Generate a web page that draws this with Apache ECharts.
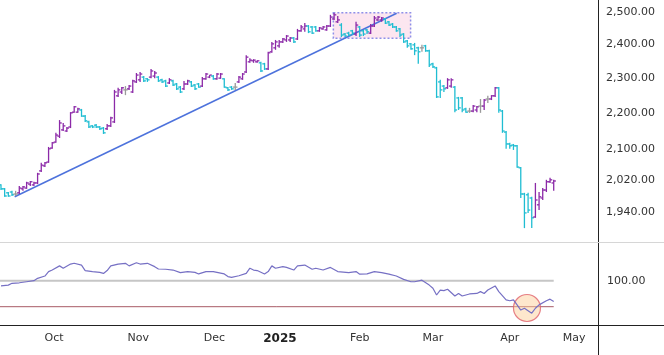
<!DOCTYPE html>
<html><head><meta charset="utf-8">
<script src="https://cdn.jsdelivr.net/npm/echarts@6/dist/echarts.min.js"></script>
<style>html,body{margin:0;padding:0;background:#fff}#c{width:664px;height:355px}</style>
</head><body><div id="c"></div>
<script>
// ---- price bars (one entry per trading day) ----
const opens  = [2008,1998,1988,1990,1985,1988,1998,2000,2010,2008,2013,2044,2057,2067,2104,2120,2136,2153,2150,2161,2202,2202,2208,2191,2175,2164,2166,2161,2158,2156,2164,2175,2248,2259,2265,2268,2259,2288,2294,2302,2297,2302,2305,2302,2294,2291,2285,2291,2282,2273,2268,2282,2288,2279,2282,2276,2297,2302,2305,2297,2299,2297,2271,2273,2273,2288,2297,2317,2347,2350,2347,2344,2341,2326,2377,2389,2395,2407,2413,2413,2419,2416,2441,2447,2456,2453,2453,2441,2447,2444,2456,2478,2469,2459,2431,2434,2441,2431,2453,2441,2444,2434,2456,2475,2475,2478,2469,2462,2453,2447,2431,2410,2401,2398,2389,2389,2395,2380,2341,2329,2288,2276,2271,2276,2273,2242,2242,2211,2205,2205,2208,2219,2219,2239,2239,2248,2271,2205,2147,2115,2112,2110,2052,1985,1983,1975,1928,1958,1975,1995,2016,2013];
const highs  = [2010,2000,1990,1993,1993,2005,2005,2016,2018,2016,2039,2065,2067,2107,2120,2145,2180,2172,2161,2202,2219,2214,2211,2194,2178,2166,2169,2164,2161,2169,2189,2265,2271,2273,2276,2279,2294,2314,2317,2305,2299,2326,2320,2305,2297,2294,2299,2294,2285,2276,2291,2294,2291,2282,2285,2302,2314,2308,2308,2314,2314,2299,2273,2276,2285,2305,2314,2367,2358,2355,2352,2347,2344,2377,2407,2413,2413,2419,2428,2422,2422,2447,2459,2465,2459,2456,2456,2453,2456,2459,2491,2497,2487,2465,2434,2438,2444,2469,2456,2444,2447,2462,2487,2487,2484,2481,2472,2465,2456,2450,2434,2413,2404,2404,2392,2398,2398,2383,2344,2332,2294,2279,2299,2299,2276,2245,2245,2214,2214,2222,2219,2239,2239,2248,2250,2273,2273,2208,2150,2118,2115,2112,2054,1988,1988,1978,2013,1990,2000,2021,2026,2021];
const lows   = [1995,1978,1978,1980,1980,1985,1993,1998,2005,2005,2010,2041,2054,2065,2102,2118,2131,2150,2147,2158,2200,2200,2189,2175,2158,2158,2158,2153,2142,2153,2161,2172,2245,2253,2250,2265,2256,2285,2288,2288,2288,2299,2299,2288,2285,2273,2282,2276,2265,2256,2265,2279,2273,2265,2271,2273,2294,2299,2294,2294,2297,2271,2262,2265,2265,2285,2294,2314,2344,2344,2344,2317,2323,2323,2374,2383,2389,2404,2407,2407,2404,2413,2438,2438,2434,2431,2438,2438,2444,2441,2453,2475,2465,2422,2422,2425,2428,2425,2422,2425,2431,2431,2453,2472,2469,2462,2456,2450,2438,2422,2404,2389,2383,2367,2341,2377,2377,2332,2329,2242,2242,2259,2268,2271,2202,2208,2202,2200,2200,2202,2202,2200,2208,2228,2236,2245,2200,2145,2102,2102,2099,2052,1975,1901,1938,1901,1926,1945,1970,1990,2013,1993];
const closes = [1998,1980,1980,1983,1985,2000,2003,2013,2016,2013,2036,2059,2065,2102,2118,2139,2172,2164,2158,2200,2217,2211,2191,2178,2161,2161,2161,2156,2145,2164,2186,2259,2265,2271,2265,2276,2291,2308,2311,2291,2294,2320,2314,2291,2288,2276,2294,2279,2268,2259,2282,2291,2276,2268,2273,2297,2311,2308,2297,2311,2311,2273,2265,2268,2273,2302,2311,2361,2352,2352,2350,2320,2326,2374,2401,2407,2407,2416,2425,2419,2407,2441,2453,2456,2438,2434,2441,2450,2453,2456,2484,2491,2475,2428,2425,2428,2434,2459,2428,2431,2438,2456,2481,2484,2481,2465,2459,2453,2441,2428,2407,2395,2386,2380,2377,2389,2380,2338,2332,2245,2265,2268,2294,2294,2208,2214,2208,2202,2205,2219,2217,2219,2236,2239,2248,2271,2208,2150,2115,2110,2110,2054,1985,1938,1945,1926,1970,1978,1995,2016,2021,2018];

// ---- lower pane indicator (bar index, value) ----
const indIdx = [0,2,3,5,7,9,10,12,13,14,16,17,19,20,22,23,25,27,28,29,30,32,34,35,37,38,40,42,43,45,47,49,51,53,54,56,58,59,61,62,63,65,67,68,69,70,72,73,74,75,77,78,80,81,83,85,86,88,90,92,95,97,98,100,102,104,106,108,110,112,113,115,117,118,119,120,121,122,124,125,126,128,130,131,132,133,135,136,138,139,140,141,142,143,145,146,147,149,150,151];
const indVal = [98.0,98.3,99.0,99.2,99.6,100.0,100.9,101.8,103.5,104.1,105.7,104.8,106.4,106.7,106.0,103.9,103.5,103.2,102.8,103.9,105.7,106.4,106.7,105.7,106.9,106.4,106.7,105.4,104.5,104.4,104.1,103.1,103.5,103.2,102.6,103.5,103.5,103.2,102.6,101.6,101.3,101.9,102.8,104.8,104.1,103.9,102.6,103.5,105.7,104.8,105.4,105.1,104.1,105.7,106.0,104.4,104.8,104.1,105.1,103.5,103.1,103.5,102.5,102.6,103.5,103.1,102.5,101.8,100.5,99.6,99.6,100.2,98.3,97.1,94.5,96.4,96.2,96.7,94.1,95.1,94.1,94.9,95.1,95.8,95.1,96.4,98.0,95.8,92.6,92.3,92.6,90.7,88.7,89.4,87.5,89.4,90.7,92.3,92.9,92.0];
const indLevels = [100, 90];

// ---- axes ----
const priceTicks = [1940, 2020, 2100, 2200, 2300, 2400, 2500];
const indTicks = [100];
const monthPos = [14.5, 37.5, 58.3, 76.2, 98, 118, 139, 156.6];
const monthLabels = ['Oct','Nov','Dec','2025','Feb','Mar','Apr','May'];

// ---- drawings ----
const trendLine = [[3.74, 1978], [108.1, 2496]];
const zoneBox = [[90.8, 2498], [111.9, 2418]];
const circleAt = [143.7, 89.5];

const L = Math.log;
const X_MIN = -0.27, X_MAX = 163.1;
const P_MAX = L(2500) + 12/789, P_MIN = P_MAX - 242/789;
const UP = '#8c2aa8', DOWN = '#1fbdd2', FLAT = '#9a9a9a';
const FONT = 'DejaVu Sans';

const barData = closes.map((c, i) => [i, L(opens[i]), L(highs[i]), L(lows[i]), L(c)]);

function renderBar(params, api) {
  const x = api.value(0);
  const o = api.value(1), c = api.value(4);
  const pO = api.coord([x, o]);
  const pH = api.coord([x, api.value(2)]);
  const pL = api.coord([x, api.value(3)]);
  const pC = api.coord([x, c]);
  const col = c > o ? UP : (c < o ? DOWN : FLAT);
  const cx = pH[0];
  const t = 2.2, w = 1.3;
  return { type: 'group', children: [
    { type: 'line', shape: { x1: cx, y1: pH[1], x2: cx, y2: pL[1] }, style: { stroke: col, lineWidth: w } },
    { type: 'line', shape: { x1: cx - t, y1: pO[1], x2: cx, y2: pO[1] }, style: { stroke: col, lineWidth: w } },
    { type: 'line', shape: { x1: cx, y1: pC[1], x2: cx + t, y2: pC[1] }, style: { stroke: col, lineWidth: w } }
  ]};
}

const fmtNum = v => Math.round(v).toLocaleString('en-US', {minimumFractionDigits: 2, maximumFractionDigits: 2});

const chart = echarts.init(document.getElementById('c'), null, { renderer: 'canvas' });
chart.setOption({
  animation: false,
  backgroundColor: '#ffffff',
  grid: [
    { left: 0, top: 0, width: 598, height: 242 },
    { left: 0, top: 243, width: 598, height: 82 }
  ],
  xAxis: [
    { gridIndex: 0, type: 'value', min: X_MIN, max: X_MAX, axisLine: { show: false }, axisTick: { show: false }, axisLabel: { show: false }, splitLine: { show: false } },
    { gridIndex: 1, type: 'value', min: X_MIN, max: X_MAX, axisLine: { show: false }, axisTick: { show: false }, splitLine: { show: false },
      axisLabel: { customValues: monthPos, margin: 8, fontFamily: FONT, fontSize: 11, color: '#333',
        formatter: v => { const k = monthPos.findIndex(p => Math.abs(p - v) < 1e-6); const s = k >= 0 ? monthLabels[k] : ''; return /^\d{4}$/.test(s) ? '{b|' + s + '}' : s; },
        rich: { b: { fontWeight: 'bold', fontFamily: FONT, fontSize: 12, color: '#222' } } } }
  ],
  yAxis: [
    { gridIndex: 0, type: 'value', position: 'right', min: P_MIN, max: P_MAX, axisLine: { show: false }, axisTick: { show: false }, splitLine: { show: false },
      axisLabel: { customValues: priceTicks.map(L), margin: 8, fontFamily: FONT, fontSize: 11, color: '#333', formatter: v => fmtNum(Math.exp(v)) } },
    { gridIndex: 1, type: 'value', position: 'right', min: 82.96, max: 114.5, axisLine: { show: false }, axisTick: { show: false }, splitLine: { show: false },
      axisLabel: { customValues: indTicks, margin: 9, fontFamily: FONT, fontSize: 11, color: '#333', formatter: v => v.toFixed(2) } }
  ],
  series: [
    { type: 'line', xAxisIndex: 0, yAxisIndex: 0, data: trendLine.map(p => [p[0], L(p[1])]), symbol: 'none', silent: true, z: 2,
      lineStyle: { color: '#4d72dc', width: 1.5 },
      markArea: { silent: true, z: 1, label: { show: false },
        itemStyle: { color: 'rgba(248,200,222,0.45)', borderColor: '#8f8fe8', borderWidth: 1.5, borderType: [2, 2] },
        data: [[{ coord: [zoneBox[0][0], L(zoneBox[0][1])] }, { coord: [zoneBox[1][0], L(zoneBox[1][1])] }]] } },
    { type: 'custom', xAxisIndex: 0, yAxisIndex: 0, renderItem: renderBar, data: barData, encode: { x: 0, y: [1, 2, 3, 4] }, z: 3, silent: true },
    { type: 'line', xAxisIndex: 1, yAxisIndex: 1, data: [[X_MIN, indLevels[0]], [closes.length - 1, indLevels[0]]], symbol: 'none', silent: true, lineStyle: { color: '#c6c6c6', width: 2 }, z: 1 },
    { type: 'line', xAxisIndex: 1, yAxisIndex: 1, data: [[X_MIN, indLevels[1]], [closes.length - 1, indLevels[1]]], symbol: 'none', silent: true, lineStyle: { color: '#a85a66', width: 1 }, z: 1 },
    { type: 'scatter', xAxisIndex: 1, yAxisIndex: 1, data: [circleAt], symbol: 'circle', symbolSize: 27, silent: true, z: 2,
      itemStyle: { color: 'rgba(253,205,150,0.6)', borderColor: '#e0616b', borderWidth: 1.2 } },
    { type: 'line', xAxisIndex: 1, yAxisIndex: 1, data: indIdx.map((i, k) => [i, indVal[k]]), symbol: 'none', silent: true, z: 3,
      lineStyle: { color: '#7670c4', width: 1.2 } }
  ],
  graphic: [
    { type: 'line', shape: { x1: 598.5, y1: 0, x2: 598.5, y2: 355 }, style: { stroke: '#222', lineWidth: 1 }, z: 10 },
    { type: 'line', shape: { x1: 0, y1: 242.5, x2: 664, y2: 242.5 }, style: { stroke: '#d6d6d6', lineWidth: 1 }, z: 10 },
    { type: 'line', shape: { x1: 0, y1: 325.5, x2: 664, y2: 325.5 }, style: { stroke: '#222', lineWidth: 1 }, z: 10 }
  ]
});
</script></body></html>
